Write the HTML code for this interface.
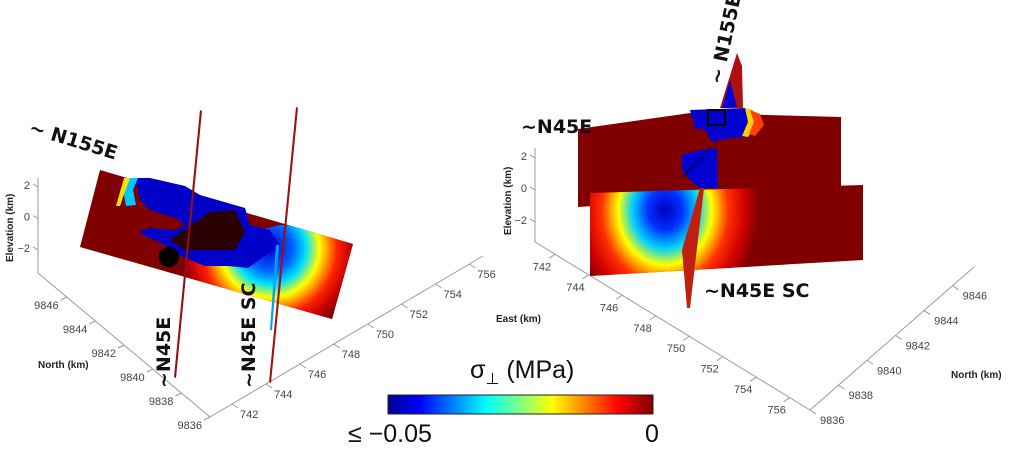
<!DOCTYPE html>
<html><head><meta charset="utf-8"><style>
html,body{margin:0;padding:0;background:#fff}
svg{display:block;font-family:"Liberation Sans",sans-serif}
.tk{font-size:11px;fill:#444}
.ax{stroke:#999;stroke-width:1;fill:none}
.lb{font-size:10px;font-weight:bold;fill:#222}
.big{font-family:"DejaVu Sans","Liberation Sans",sans-serif;font-weight:bold;font-size:19px;fill:#111}
</style></head><body>
<svg id="fig" width="1024" height="456" viewBox="0 0 1024 456">
<defs>
<linearGradient id="jet" x1="0" x2="1" y1="0" y2="0">
<stop offset="0" stop-color="#00008f"/><stop offset="0.12" stop-color="#0000ff"/><stop offset="0.37" stop-color="#00ffff"/><stop offset="0.5" stop-color="#80ff80"/><stop offset="0.62" stop-color="#ffff00"/><stop offset="0.87" stop-color="#ff0000"/><stop offset="1" stop-color="#800000"/>
</linearGradient>
<radialGradient id="rjet" gradientUnits="userSpaceOnUse" cx="665" cy="210" r="110" gradientTransform="translate(665 210) scale(0.85 1) translate(-665 -210)">
<stop offset="0" stop-color="#0000c0"/><stop offset="0.18" stop-color="#0030ff"/><stop offset="0.35" stop-color="#00d0ff"/><stop offset="0.5" stop-color="#ffff00"/><stop offset="0.68" stop-color="#ff3000"/><stop offset="0.85" stop-color="#d00000"/><stop offset="1" stop-color="#800000"/>
</radialGradient>
<radialGradient id="ljet" gradientUnits="userSpaceOnUse" cx="270" cy="248" r="90">
<stop offset="0" stop-color="#0000d0"/><stop offset="0.25" stop-color="#0060ff"/><stop offset="0.4" stop-color="#00e0ff"/><stop offset="0.55" stop-color="#ffff00"/><stop offset="0.75" stop-color="#ff2000"/><stop offset="0.9" stop-color="#c00000"/><stop offset="1" stop-color="#800000"/>
</radialGradient>
<clipPath id="lclip"><polygon points="100,170 353,244 332,319 80,247"/></clipPath>
<clipPath id="rclip"><polygon points="590,193 863,185 863,260 590,276"/></clipPath>
</defs>
<g id="left">
<g id="laxes"></g>
<polygon points="100,170 353,244 332,319 80,247" fill="#800000"/>
<g clip-path="url(#lclip)">
<path d="M185,255 L220,240 L280,225 L360,230 L360,330 L300,325 L220,300 L185,280 Z" fill="url(#ljet)"/>
</g>
<path d="M135,178 L150,178 L185,186 L200,195 L245,208 L250,225 L270,230 L280,245 L262,258 L248,268 L228,266 L205,266 L185,258 L165,245 L150,238 L138,232 L150,228 L175,230 L185,225 L175,218 L150,210 L140,200 Z" fill="#0000c8"/>
<path d="M128,178 L138,178 L133,190 L136,205 L126,206 L124,195 Z" fill="#00c8ff"/>
<path d="M124,178 L130,178 L122,200 L120,206 L116,206 Z" fill="#ffe000"/>
<path d="M150,228 L175,230 L185,225 L175,218 L150,212 L145,220 Z" fill="#800000"/>
<polygon points="170,240 210,212 235,210 245,232 235,250 185,250" fill="#2a0000"/>
<circle cx="169" cy="257" r="10" fill="#000"/>
<polygon points="200,110 202,111 176,378 174,377" fill="#901010"/>
<polygon points="296,107 298,108 271,383 269,382" fill="#a01010"/>
<polygon points="276,245 279,245 272,330 270,330" fill="#00a0ff" />
<text class="big" transform="translate(28,133) rotate(17)">~ N155E</text>
<text class="big" transform="translate(170,388) rotate(-90)">~N45E</text>
<text class="big" transform="translate(255,388) rotate(-90)">~N45E SC</text>
</g>
<g id="right">
<g id="raxes"></g>
<polygon points="578,129 690,113 841,117 841,190 578,207" fill="#800000"/>
<polygon points="590,193 863,185 863,260 590,276" fill="#800000"/>
<g clip-path="url(#rclip)">
<rect x="585" y="180" width="200" height="100" fill="url(#rjet)"/>
</g>
<path d="M690,110 L745,108 L750,118 L745,137 L730,138 L712,142 L705,130 L695,128 Z" fill="#0000d0"/>
<path d="M682,155 L700,150 L717,148 L718,188 L700,188 L690,180 L682,170 Z" fill="#0000d0"/>
<path d="M745,108 L753,110 L756,125 L748,137 L742,136 L748,122 Z" fill="#ffd000"/>
<path d="M750,110 L760,114 L764,125 L755,136 L749,134 L754,122 Z" fill="#ff4000"/>
<polygon points="737,53 742,66 743,108 720,108" fill="#b01010"/>
<polygon points="730,80 737,107 722,108" fill="#0000d0"/>
<polygon points="708,110 725,110 725,125 708,125" fill="none" stroke="#000" stroke-width="2"/>
<polygon points="720,137 690,170 673,186 700,158" fill="#000"/>
<polygon points="700,188 704,188 690,308 687,308 682,250" fill="#c02010"/>
<text class="big" transform="translate(722,85) rotate(-78)">~ N155E</text>
<text class="big" x="521" y="133">~N45E</text>
<text class="big" x="704" y="297">~N45E SC</text>
</g>
<g>
<text x="470" y="378" font-size="25" fill="#111">σ<tspan font-size="16" dy="6">⊥</tspan><tspan dy="-6"> (MPa)</tspan></text>
<rect x="388" y="395" width="265" height="19" fill="url(#jet)" stroke="#222" stroke-width="1"/>
<text id="cbmin" x="348" y="442" font-size="25" fill="#111"></text>
<text id="cbmax" x="645" y="442" font-size="25" fill="#111"></text>
</g>
</svg>
<script>
const cbLabels = ["≤ −0.05", "0"];
const elevTicks = [2, 0, -2];
const northTicks = [9846, 9844, 9842, 9840, 9838, 9836];
const eastTicks = [742, 744, 746, 748, 750, 752, 754, 756];
document.getElementById('cbmin').textContent = cbLabels[0];
document.getElementById('cbmax').textContent = cbLabels[1];
const NS = 'http://www.w3.org/2000/svg';
function mk(g, tag, attrs, txt){const e=document.createElementNS(NS,tag);for(const k in attrs)e.setAttribute(k,attrs[k]);if(txt!==undefined)e.textContent=txt;g.appendChild(e);return e;}
function axis(g, p0, p1, ticks, v0, v1, off, anchor, dx, dy, name){
  const l=mk(g,'line',{x1:p0[0],y1:p0[1],x2:p1[0],y2:p1[1],class:'ax'});
  
  
  ticks.forEach(v=>{
    const t=(v-v0)/(v1-v0);
    const x=p0[0]+(p1[0]-p0[0])*t, y=p0[1]+(p1[1]-p0[1])*t;
    mk(g,'line',{x1:x,y1:y,x2:x+off[0],y2:y+off[1],class:'ax'});
    const tx=mk(g,'text',{x:x+dx,y:y+dy,class:'tk','text-anchor':anchor},v<0?'−'+(-v):String(v));
    
    
  });
}
const L=document.getElementById('laxes'), R=document.getElementById('raxes');
axis(L,[38,187],[38,250],elevTicks,2,-2,[-5,-3],'end',-8,2,'left-elevation');
mk(L,'line',{x1:38,y1:178,x2:38,y2:273,class:'ax'});
axis(L,[38,273],[210,417],northTicks,9848,9836,[-6,3],'end',-8,12,'left-north');
axis(L,[210,417],[483,256],eastTicks,740.7,756.8,[6,4],'start',8,14,'left-east');
mk(L,'text',{x:38,y:368,class:'lb'},'North (km)');
mk(L,'text',{transform:'translate(13,262) rotate(-90)',class:'lb'},'Elevation (km)');
mk(L,'text',{x:496,y:322,class:'lb'},'East (km)');
axis(R,[535,158],[535,222],elevTicks,2,-2,[-5,-3],'end',-8,2,'right-elevation');
mk(R,'line',{x1:535,y1:148,x2:535,y2:242,class:'ax'});
axis(R,[535,242],[810,410],eastTicks,740.8,757.2,[-6,4],'end',-4,16,'right-east');
axis(R,[810,410],[974,267],northTicks.slice().reverse(),9836,9847.5,[6,4],'start',10,14,'right-north');
mk(R,'text',{x:951,y:378,class:'lb'},'North (km)');
mk(R,'text',{transform:'translate(511,235) rotate(-90)',class:'lb'},'Elevation (km)');
</script>
</body></html>
